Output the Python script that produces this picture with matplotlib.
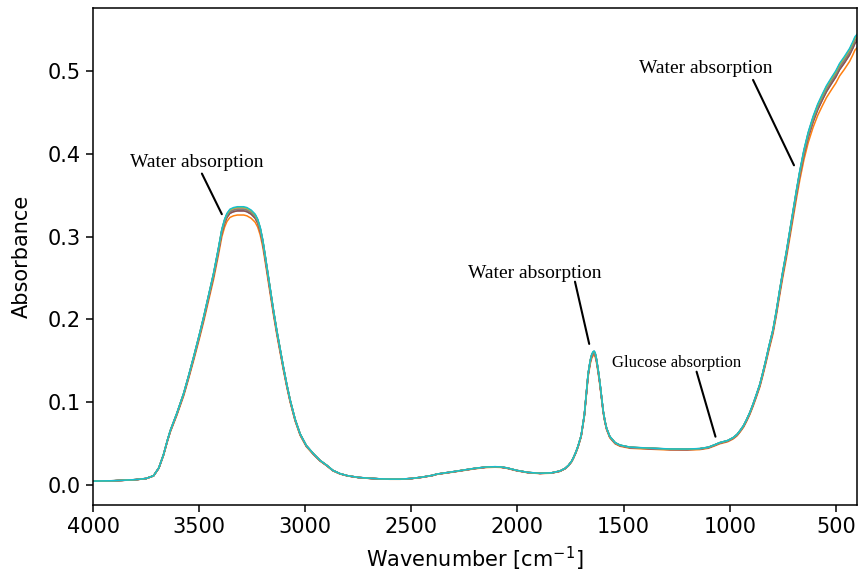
import matplotlib
matplotlib.use("Agg")
import matplotlib.pyplot as plt
import numpy as np

# -----------------------------
# DATA
# -----------------------------
wavenumber = [
    4000, 3900, 3800, 3750, 3715, 3690, 3668, 3650, 3636, 3620, 3605, 3573,
    3550, 3526, 3500, 3479, 3455, 3432, 3410, 3393, 3380, 3369, 3355, 3338,
    3320, 3305, 3290, 3275, 3255, 3236, 3224, 3212, 3200, 3189, 3165, 3150,
    3134, 3118, 3103, 3087, 3071, 3048, 3024, 2995, 2961, 2930, 2898, 2870,
    2836, 2800, 2750, 2700, 2650, 2600, 2553, 2500, 2450, 2400, 2380, 2340,
    2300, 2239, 2200, 2150, 2106, 2080, 2050, 2004, 1950, 1894, 1840, 1800,
    1775, 1760, 1745, 1737, 1725, 1715, 1700, 1685, 1675, 1667, 1657, 1650,
    1644, 1639, 1634, 1628, 1620, 1612, 1604, 1596, 1588, 1580, 1565, 1540,
    1517, 1470, 1408, 1350, 1282, 1200, 1141, 1100, 1070, 1047, 1010, 984,
    965, 950, 935, 921, 905, 890, 875, 858, 845, 830, 815, 796, 780, 765,
    750, 733, 715, 700, 685, 670, 650, 630, 607, 585, 565, 544, 520, 500,
    482, 460, 435, 420, 410, 400,
]
absorbance = [
    0.0050, 0.0055, 0.0068, 0.0082, 0.0115, 0.0210, 0.0370, 0.0540, 0.0660,
    0.0770, 0.0870, 0.1110, 0.1320, 0.1550, 0.1810, 0.2030, 0.2300, 0.2560,
    0.2850, 0.3090, 0.3210, 0.3280, 0.3330, 0.3350, 0.3360, 0.3360, 0.3360,
    0.3350, 0.3320, 0.3270, 0.3210, 0.3110, 0.2960, 0.2780, 0.2370, 0.2120,
    0.1870, 0.1640, 0.1430, 0.1220, 0.1030, 0.0800, 0.0620, 0.0480, 0.0380,
    0.0300, 0.0240, 0.0180, 0.0140, 0.0115, 0.0095, 0.0085, 0.0078, 0.0074,
    0.0074, 0.0082, 0.0098, 0.0120, 0.0135, 0.0150, 0.0165, 0.0190, 0.0205,
    0.0220, 0.0224, 0.0222, 0.0210, 0.0180, 0.0155, 0.0145, 0.0150, 0.0172,
    0.0205, 0.0240, 0.0290, 0.0330, 0.0400, 0.0470, 0.0600, 0.0850, 0.1120,
    0.1350, 0.1510, 0.1580, 0.1610, 0.1620, 0.1600, 0.1530, 0.1400, 0.1250,
    0.1070, 0.0900, 0.0780, 0.0690, 0.0590, 0.0515, 0.0485, 0.0460, 0.0452,
    0.0446, 0.0438, 0.0437, 0.0443, 0.0460, 0.0490, 0.0515, 0.0540, 0.0575,
    0.0615, 0.0665, 0.0720, 0.0790, 0.0880, 0.0980, 0.1090, 0.1220, 0.1350,
    0.1510, 0.1680, 0.1880, 0.2110, 0.2350, 0.2580, 0.2820, 0.3100, 0.3340,
    0.3570, 0.3790, 0.4050, 0.4260, 0.4450, 0.4600, 0.4710, 0.4820, 0.4920,
    0.5000, 0.5090, 0.5170, 0.5270, 0.5350, 0.5410, 0.5440,
]

# peak heights of the O-H band for each of the 10 spectra (tab10 order)
oh_peaks = [0.335, 0.326, 0.334, 0.333, 0.331, 0.331, 0.334, 0.333, 0.335, 0.336]

wn = np.array(wavenumber)
base = np.array(absorbance)
base_oh = base[wn > 3000].max()

plt.rcParams["font.family"] = "DejaVu Sans"
fig = plt.figure(figsize=(8.59, 5.76), dpi=100)
ax = fig.add_axes([0.1083, 0.1233, 0.8894, 0.8623])

for i, pk in enumerate(oh_peaks):
    ax.plot(wn, base * pk / base_oh, color=f"C{i}", lw=1.1)

ax.set_xlim(4000, 400)
ax.set_ylim(-0.0238, 0.5754)
ax.set_xticks([4000, 3500, 3000, 2500, 2000, 1500, 1000, 500])
ax.set_yticks([0.0, 0.1, 0.2, 0.3, 0.4, 0.5])
ax.tick_params(labelsize=15, length=5, width=1.1)
for s in ax.spines.values():
    s.set_linewidth(1.1)

ax.set_xlabel("Wavenumber [cm$^{-1}$]", fontsize=15, labelpad=6)
ax.set_ylabel("Absorbance", fontsize=15, labelpad=12)

# -----------------------------
# ANNOTATIONS
# -----------------------------
serif = "Liberation Serif"
line_style = dict(arrowstyle="-", color="black", lw=1.5, shrinkA=0, shrinkB=0)

ax.text(3511, 0.384, "Water absorption", family=serif, fontsize=14,
        ha="center", va="baseline")
ax.annotate("", xy=(3393, 0.327), xytext=(3487, 0.376), arrowprops=line_style)

ax.text(1919, 0.2497, "Water absorption", family=serif, fontsize=14,
        ha="center", va="baseline")
ax.annotate("", xy=(1662, 0.1705), xytext=(1729, 0.2456), arrowprops=line_style)

ax.text(1115, 0.497, "Water absorption", family=serif, fontsize=14,
        ha="center", va="baseline")
ax.annotate("", xy=(697, 0.386), xytext=(890, 0.489), arrowprops=line_style)

ax.text(1248, 0.143, "Glucose absorption", family=serif, fontsize=12,
        ha="center", va="baseline")
ax.annotate("", xy=(1067, 0.0586), xytext=(1156, 0.137), arrowprops=line_style)

fig.savefig("out.png", dpi=100)
